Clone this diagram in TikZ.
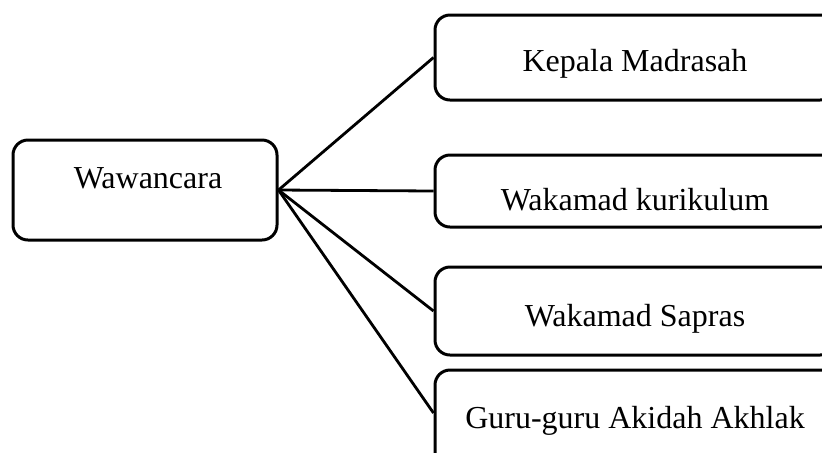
\documentclass[tikz,border=0pt]{standalone}
\usepackage{fontspec}
\setmainfont{Liberation Serif}
\usepackage{tikz}
\usetikzlibrary{positioning}

\tikzset{
  kotak/.style={draw, line width=1.5pt, rounded corners=7.5pt, rectangle, inner sep=0pt},
  teks/.style={font=\fontsize{16}{19}\selectfont, inner sep=0pt},
  garis/.style={line width=1.4pt}
}

\begin{document}
\begin{tikzpicture}[x=0.5pt, y=-0.5pt]
    \useasboundingbox (0,0) rectangle (822,452);

        % kotak utama
        \node[kotak, minimum width=132pt, minimum height=50pt] (wawan) at (145,190) {};
        \node[teks] (wawantxt) at (148,178) {Wawancara};

        % kotak narasumber
        \node[kotak, minimum width=200pt, minimum height=42.5pt] (kepala) at (635,57.5) {};
        \node[kotak, minimum width=200pt, minimum height=36pt] (kurikulum) at (635,191) {};
        \node[kotak, minimum width=200pt, minimum height=44pt] (sapras) at (635,311) {};
        \node[kotak, minimum width=200pt, minimum height=50pt] (guru) at (635,420) {};

        \node[teks] (kepalatxt) at (635,64) {Kepala Madrasah};
        \node[teks] (kurikulumtxt) at (635,200) {Wakamad kurikulum};
        \node[teks] (saprastxt) at (635,319) {Wakamad Sapras};
        \node[teks] (gurutxt) at (635,421) {Guru-guru Akidah Akhlak};

        \draw[garis] (wawan.east) -- (kepala.west);
        \draw[garis] (wawan.east) -- (kurikulum.west);
        \draw[garis] (wawan.east) -- (sapras.west);
        \draw[garis] (wawan.east) -- ([yshift=3.5pt]guru.west);
    \end{tikzpicture}
\end{document}
